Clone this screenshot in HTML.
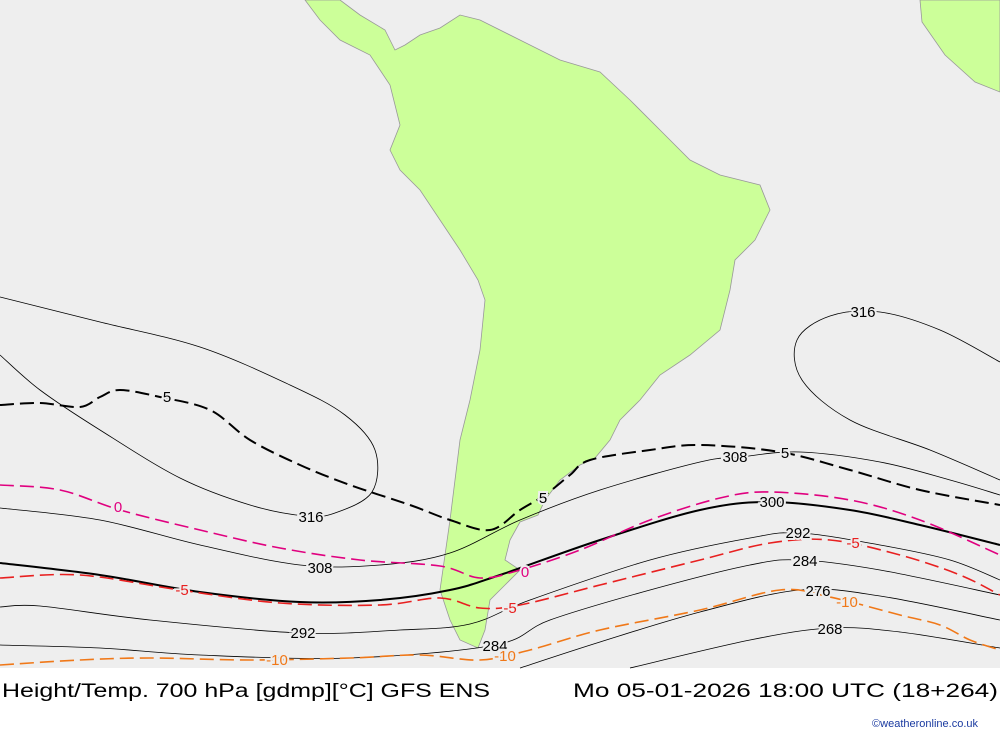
<!DOCTYPE html>
<html><head><meta charset="utf-8"><style>
html,body{margin:0;padding:0;width:1000px;height:733px;overflow:hidden;background:#fff;font-family:"Liberation Sans",sans-serif}
svg{display:block}
</style></head><body>
<svg id="map" width="1000" height="733" viewBox="0 0 1000 733" xmlns="http://www.w3.org/2000/svg">
<rect x="0" y="0" width="1000" height="668" fill="#eeeeee"/>
<g id="land"></g>
<g id="contours"></g>
<g id="labels" font-family="Liberation Sans, sans-serif" font-size="15"></g>
<text x="2" y="697" font-size="19" fill="#000" font-family="Liberation Sans, sans-serif" textLength="488" lengthAdjust="spacingAndGlyphs">Height/Temp. 700 hPa [gdmp][°C] GFS ENS</text>
<text x="573" y="697" font-size="19" fill="#000" font-family="Liberation Sans, sans-serif" textLength="425" lengthAdjust="spacingAndGlyphs">Mo 05-01-2026 18:00 UTC (18+264)</text>
<text x="978" y="727" text-anchor="end" font-size="11" fill="#1a3aa0" font-family="Liberation Sans, sans-serif">©weatheronline.co.uk</text>
</svg>
<script>
const southAmerica=[[305,0],[340,0],[360,15],[385,30],[395,50],[405,45],[420,35],[440,28],[460,15],[480,20],[520,40],[560,60],[600,72],[630,100],[660,130],[690,160],[720,175],[760,185],[770,210],[755,240],[735,260],[730,290],[720,330],[690,355],[660,375],[640,400],[620,420],[610,440],[595,458],[580,465],[560,480],[545,500],[538,515],[520,522],[510,540],[505,560],[520,570],[505,585],[490,600],[485,630],[478,648],[460,640],[450,620],[440,590],[445,555],[450,520],[455,480],[460,440],[470,400],[480,350],[485,300],[478,280],[460,250],[440,220],[420,190],[400,170],[390,150],[400,125],[395,105],[390,85],[370,55],[340,40],[320,20]];
const northAfrica=[[920,0],[1000,0],[1000,92],[975,82],[945,55],[922,22]];
const contourLines=[
 {name:"height-316-west",color:"#000",w:0.8,dash:"",pts:[[0,297],[100,322],[200,347],[290,385],[345,415],[375,450],[372,492],[335,513],[305,516],[250,505],[180,478],[100,430],[40,390],[0,355]]},
 {name:"height-316-east",color:"#000",w:0.8,dash:"",pts:[[1000,362],[940,330],[880,312],[830,316],[797,340],[802,380],[850,420],[930,450],[1000,480]]},
 {name:"height-308",color:"#000",w:0.8,dash:"",pts:[[0,508],[100,520],[200,545],[300,565],[380,565],[450,553],[520,520],[600,490],[700,462],[740,457],[800,452],[880,462],[950,480],[1000,495]]},
 {name:"height-300",color:"#000",w:2,dash:"",pts:[[0,563],[100,575],[200,592],[300,602],[380,600],[450,590],[500,575],[600,540],[700,510],[770,502],[850,510],[920,525],[1000,545]]},
 {name:"height-292",color:"#000",w:0.8,dash:"",pts:[[0,607],[40,606],[150,620],[300,633],[400,630],[470,624],[530,600],[650,560],[750,538],[800,533],[880,545],[950,560],[1000,580]]},
 {name:"height-284",color:"#000",w:0.8,dash:"",pts:[[0,645],[100,648],[200,655],[350,658],[495,645],[550,620],[650,590],[750,565],[800,560],[880,570],[1000,595]]},
 {name:"height-276",color:"#000",w:0.8,dash:"",pts:[[520,668],[600,642],[700,612],[800,590],[880,596],[1000,620]]},
 {name:"height-268",color:"#000",w:0.8,dash:"",pts:[[630,668],[750,640],[830,628],[900,632],[1000,648]]},
 {name:"temp-5",color:"#000",w:2,dash:"14,6",pts:[[0,405],[40,403],[80,407],[100,397],[120,390],[160,397],[210,410],[250,440],[300,465],[350,485],[410,505],[450,520],[490,530],[520,510],[545,495],[570,475],[590,460],[650,450],[700,445],[780,452],[850,470],[920,490],[1000,505]]},
 {name:"temp-0",color:"#e0007f",w:1.6,dash:"14,6",pts:[[0,485],[60,490],[120,510],[200,530],[280,548],[360,560],[440,566],[480,578],[520,570],[580,550],[650,520],[720,498],[770,492],[850,500],[920,520],[1000,555]]},
 {name:"temp-minus5",color:"#e82020",w:1.6,dash:"14,6",pts:[[0,578],[80,575],[180,590],[280,603],[380,605],[440,598],[480,608],[520,605],[600,585],[700,560],[770,543],[830,540],[900,555],[960,575],[1000,595]]},
 {name:"temp-minus10",color:"#f07818",w:1.6,dash:"14,6",pts:[[0,665],[80,660],[150,658],[250,660],[350,658],[420,655],[480,660],[530,650],[600,630],[700,610],[780,590],[830,597],[900,615],[940,625],[970,640],[1000,650]]}
];
const labelText=["316","316","308","308","300","292","292","284","284","276","268","5","5","5","0","0","-5","-5","-5","-10","-10","-10"];
const labelColor=["#000","#000","#000","#000","#000","#000","#000","#000","#000","#000","#000","#000","#000","#000","#e0007f","#e0007f","#e82020","#e82020","#e82020","#f07818","#f07818","#f07818"];
const labelX=[311,863,320,735,772,798,303,805,495,818,830,167,543,785,118,525,182,510,853,277,505,847];
const labelY=[517,312,568,457,502,533,633,561,646,591,629,397,498,453,507,572,590,608,543,660,656,602];
const NS="http://www.w3.org/2000/svg";
function poly(pts){return "M"+pts.map(p=>p.join(",")).join("L")+"Z";}
function smooth(p){let d="M"+p[0][0]+","+p[0][1];for(let i=0;i<p.length-1;i++){const p0=p[i-1]||p[i],p1=p[i],p2=p[i+1],p3=p[i+2]||p2;d+=" C"+(p1[0]+(p2[0]-p0[0])/6)+","+(p1[1]+(p2[1]-p0[1])/6)+" "+(p2[0]-(p3[0]-p1[0])/6)+","+(p2[1]-(p3[1]-p1[1])/6)+" "+p2[0]+","+p2[1];}return d;}
const land=document.getElementById("land");
[[southAmerica,"south-america"],[northAfrica,"africa-coast"]].forEach(([pts,n])=>{
 const el=document.createElementNS(NS,"path");
 el.setAttribute("d",poly(pts));el.setAttribute("fill","#ccff99");el.setAttribute("stroke","#999");el.setAttribute("stroke-width","0.8");
 
 
 land.appendChild(el);
});
const cg=document.getElementById("contours");
contourLines.forEach(c=>{
 const el=document.createElementNS(NS,"path");
 el.setAttribute("d",smooth(c.pts));el.setAttribute("fill","none");el.setAttribute("stroke",c.color);el.setAttribute("stroke-width",c.w);
 if(c.dash)el.setAttribute("stroke-dasharray",c.dash);
 
 
 cg.appendChild(el);
});
const lg=document.getElementById("labels");
labelText.forEach((t,i)=>{
 const el=document.createElementNS(NS,"text");
 el.setAttribute("x",labelX[i]);el.setAttribute("y",labelY[i]+5);el.setAttribute("text-anchor","middle");el.setAttribute("fill",labelColor[i]);
 el.setAttribute("stroke","#eeeeee");el.setAttribute("stroke-width","4");el.setAttribute("paint-order","stroke");
 el.textContent=t;
 
 
 lg.appendChild(el);
});
</script>
</body></html>
